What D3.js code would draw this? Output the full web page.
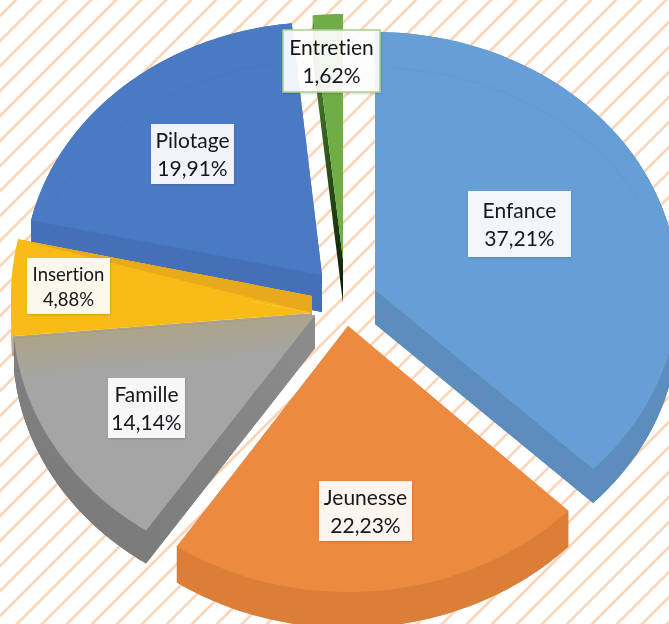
<!DOCTYPE html>
<html lang="fr">
<head>
<meta charset="utf-8">
<script src="https://cdn.jsdelivr.net/npm/d3@7"></script>
<style>
html,body{margin:0;padding:0;background:#fff;overflow:hidden}
svg{display:block}
text{font-family:Lato,"Open Sans",sans-serif;fill:#15181d;font-variant-ligatures:none;font-feature-settings:"liga" 0}
</style>
</head>
<body>
<div id="chart"></div>
<script>
// --- data ---
const categories = ["Enfance", "Jeunesse", "Famille", "Insertion", "Pilotage", "Entretien"];
const shares     = [37.21, 22.23, 14.14, 4.88, 19.91, 1.62];
const shareLabels = ["37,21%", "22,23%", "14,14%", "4,88%", "19,91%", "1,62%"];

// --- styling & layout of the exploded, tilted pie ---
const topColors  = ["#669fd6", "#ec8a41", "#a5a5a5", "#f9bb14", "#4b7ac5", "#70ad47"];
const wallColors = ["#5b8dbd", "#da7e38", "#808080", "#e9ae12", "#4470b8", "#4a7a2e"];
const rimColors  = ["#3f6d9c", "#d47a36", "#6d6d6d", "#f3b512", "#4470b8", "#4a7a2e"];
const apexX  = [375, 348, 315, 312, 322, 343];
const apexY  = [290, 326, 315, 313, 275, 260];
const radX   = [303, 306, 302, 301, 298, 298];
const radY   = [258, 266, 260, 262, 253, 246];
const depths = [34, 36, 33, 20, 37, 43];
const boxX   = [468, 319, 108, 27, 151, 283];
const boxY   = [191, 481, 378, 258, 124, 30];
const boxW   = [103, 93, 77, 83, 83, 97];
const boxH   = [66, 60, 60, 56, 60, 62];
const boxFont = [21, 21, 21, 18.5, 21, 21];
const width = 669, height = 624;

const svg = d3.select("#chart").append("svg").attr("width", width).attr("height", height);
const defs = svg.append("defs");

// background hatch
const S = 25;
const hatch = defs.append("pattern").attr("id", "hatch").attr("patternUnits", "userSpaceOnUse")
  .attr("width", S).attr("height", S).attr("patternTransform", "translate(3.5,0)");
hatch.append("path").attr("d", `M-3,${S / 2 + 3} L${S / 2 + 3},-3 M${S / 2 - 3},${S + 3} L${S + 3},${S / 2 - 3}`)
  .attr("stroke", "#fad0b0").attr("stroke-width", 2.4).attr("fill", "none");
svg.append("rect").attr("width", width).attr("height", height).attr("fill", "#fff");
svg.append("rect").attr("width", width).attr("height", height).attr("fill", "url(#hatch)");

const soft = defs.append("filter").attr("id", "soft").attr("x", "-5%").attr("y", "-5%").attr("width", "110%").attr("height", "110%");
soft.append("feGaussianBlur").attr("stdDeviation", 0.55);
const softText = defs.append("filter").attr("id", "softText");
softText.append("feGaussianBlur").attr("stdDeviation", 0.3);
const shade = defs.append("filter").attr("id", "shade").attr("x", "-10%").attr("y", "-10%").attr("width", "125%").attr("height", "125%");
shade.append("feDropShadow").attr("dx", 0.5).attr("dy", 1).attr("stdDeviation", 1).attr("flood-color", "#000").attr("flood-opacity", 0.18);

function gradient(id, attrs, stops) {
  const g = defs.append("linearGradient").attr("id", id).attr("gradientUnits", "userSpaceOnUse");
  Object.entries(attrs).forEach(([k, v]) => g.attr(k, v));
  stops.forEach(([o, c]) => g.append("stop").attr("offset", o).attr("stop-color", c));
}
gradient("rim0", {x1: 590, y1: 0, x2: 669, y2: 0}, [[0, "#5b8dbd"], [1, "#2f587f"]]);
gradient("rim1", {x1: 176, y1: 0, x2: 570, y2: 0}, [[0, "#dd8039"], [0.65, "#d67b36"], [1, "#cf7d3c"]]);
gradient("rim2", {x1: 15, y1: 0, x2: 146, y2: 0}, [[0, "#4d4d4d"], [0.45, "#777"], [1, "#8a8a8a"]]);
gradient("wall2", {x1: 145, y1: 560, x2: 315, y2: 330}, [[0, "#7b7b7b"], [1, "#8c8c8c"]]);
gradient("wall5", {x1: 0, y1: 60, x2: 0, y2: 290}, [[0, "#4f8233"], [0.45, "#2c5519"], [1, "#0d1f06"]]);
gradient("tint2", {x1: 170, y1: 325, x2: 174, y2: 368}, [[0, "#aea48a"], [1, "#a5a5a5"]]);

const slices = d3.pie().sort(null).value(d => d)(shares);
const line = d3.line();

const at = (i, angle, dy = 0) => [
  apexX[i] + radX[i] * Math.sin(angle),
  apexY[i] + dy - radY[i] * Math.cos(angle)
];
const apex = (i, dy = 0) => [apexX[i], apexY[i] + dy];
const angles = (a, b) => d3.range(0, 61).map(k => a + (b - a) * k / 60);

const marks = svg.append("g").attr("filter", "url(#soft)");

function drawSector(i, dy, fill) {
  const pts = [apex(i, dy)].concat(angles(slices[i].startAngle, slices[i].endAngle).map(a => at(i, a, dy)));
  marks.append("path").attr("d", line(pts) + "Z").attr("fill", fill);
}
function drawRadialWall(i, angle, d, fill) {
  marks.append("path")
    .attr("d", line([apex(i), at(i, angle), at(i, angle, d), apex(i, d)]) + "Z")
    .attr("fill", fill);
}
function drawRim(i, d, fill) {
  const as = angles(slices[i].startAngle, slices[i].endAngle);
  const pts = as.map(a => at(i, a)).concat(as.slice().reverse().map(a => at(i, a, d)));
  marks.append("path").attr("d", line(pts) + "Z").attr("fill", fill);
}
function drawFaintArc(i, d, color, a0, a1, opacity) {
  const s = slices[i];
  const as = angles(s.startAngle + (s.endAngle - s.startAngle) * a0, s.startAngle + (s.endAngle - s.startAngle) * a1);
  marks.append("path").attr("d", line(as.map(a => at(i, a, d))))
    .attr("fill", "none").attr("stroke", color).attr("stroke-width", 1.5).attr("stroke-opacity", opacity);
}
function drawSolid(i, wallFill, rimFill) {
  drawRim(i, depths[i], rimFill);
  drawRadialWall(i, slices[i].startAngle, depths[i], wallFill);
  drawRadialWall(i, slices[i].endAngle, depths[i], wallFill);
  drawSector(i, depths[i], wallFill);
}

// Pilotage
drawSolid(4, wallColors[4], rimColors[4]);
drawSector(4, 0, topColors[4]);
drawFaintArc(4, 38, "#4674bd", 0.06, 0.95, 0.35);

// Entretien
drawRadialWall(5, slices[5].startAngle, depths[5], "url(#wall5)");
drawSector(5, 0, topColors[5]);

// Enfance
drawSolid(0, wallColors[0], "url(#rim0)");
drawSector(0, 0, topColors[0]);
drawFaintArc(0, 36, "#6097cd", 0.02, 0.45, 0.4);

// Insertion's lower rim and wall show beside and through Famille
drawRim(3, depths[3], rimColors[3]);
drawRadialWall(3, slices[3].startAngle, depths[3], "#aea48a");

// Famille
drawSolid(2, "url(#wall2)", "url(#rim2)");
drawSector(2, 0, "url(#tint2)");

// Insertion: surface seen with its darker inner wedge
const ins = 3, insLift = -17;
const insEnd = slices[ins].endAngle;
drawSector(ins, 0, topColors[ins]);
drawSector(ins, insLift, topColors[ins]);
marks.append("path")
  .attr("d", line([apex(ins, insLift), at(ins, insEnd, insLift), at(ins, insEnd, 0), apex(ins, 0)]) + "Z")
  .attr("fill", topColors[ins]);
marks.append("path")
  .attr("d", line([apex(ins, insLift), at(ins, insEnd, insLift), apex(ins, 0)]) + "Z")
  .attr("fill", "#e7aa1a");

// Jeunesse
drawSolid(1, wallColors[1], "url(#rim1)");
drawSector(1, 0, topColors[1]);

// Labels
const labels = svg.append("g");
categories.forEach((name, i) => {
  const g = labels.append("g");
  g.append("rect")
    .attr("x", boxX[i]).attr("y", boxY[i]).attr("width", boxW[i]).attr("height", boxH[i])
    .attr("fill", "#fff").attr("fill-opacity", 0.91)
    .attr("stroke", name === "Entretien" ? "#a9d18e" : "none").attr("stroke-width", 1.5)
    .attr("filter", "url(#shade)");
  const t = g.append("g").attr("filter", "url(#softText)");
  const cx = boxX[i] + boxW[i] / 2, cy = boxY[i] + boxH[i] / 2 + 1, gap = boxFont[i] * 0.66;
  t.append("text").attr("x", cx).attr("y", cy - gap).attr("dy", "0.35em").attr("text-anchor", "middle")
    .attr("font-size", boxFont[i]).text(name);
  t.append("text").attr("x", cx).attr("y", cy + gap).attr("dy", "0.35em").attr("text-anchor", "middle")
    .attr("font-size", boxFont[i]).text(shareLabels[i]);
});
</script>
</body>
</html>
